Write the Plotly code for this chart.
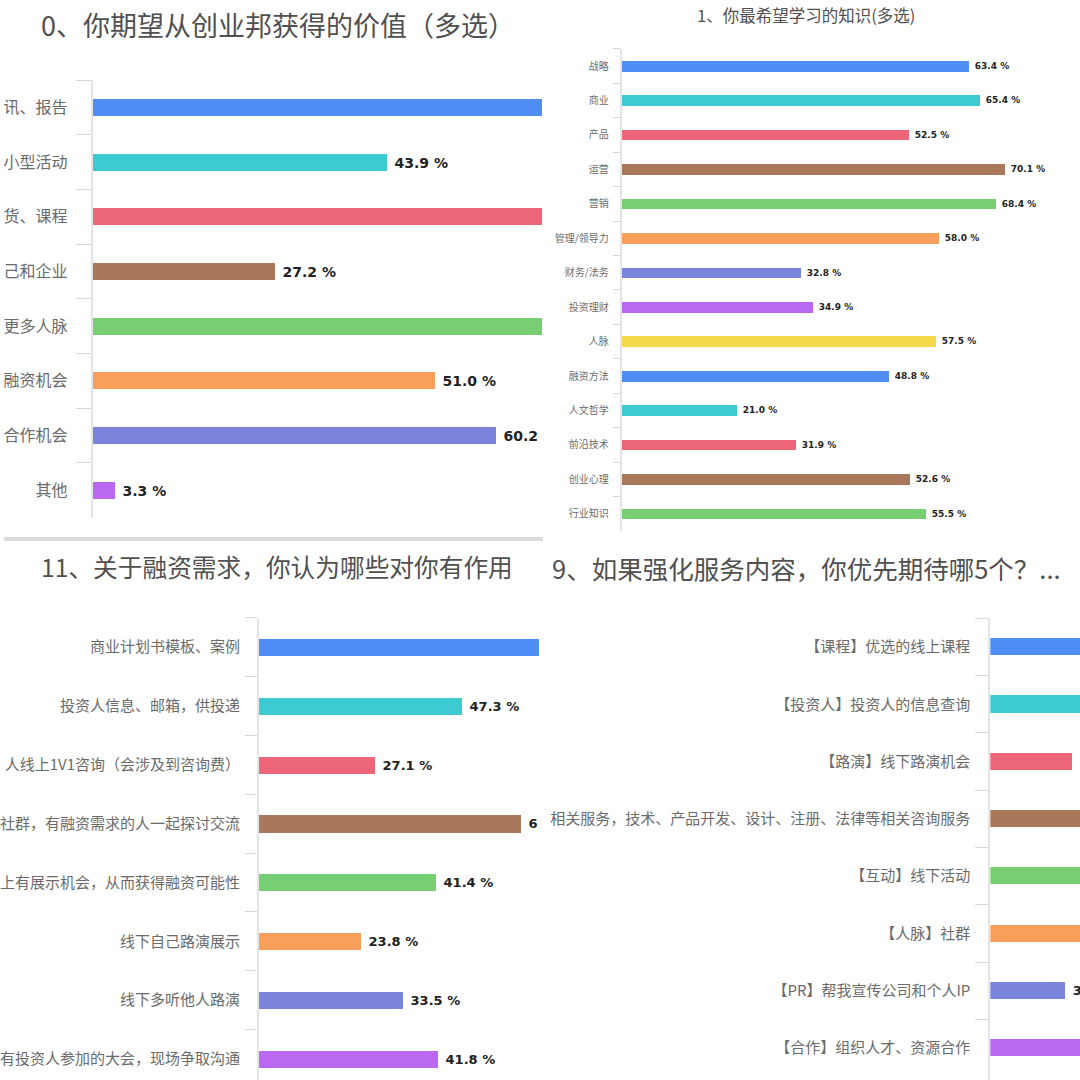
import plotly.graph_objects as go

W = H = 1080

PALETTE = ["#4e8ef5", "#3ecad3", "#ec6579", "#a9785a", "#76cf72",
           "#f99f5c", "#7b84dc", "#ba67f2", "#f4da4a"]

# ---------------- data ----------------
p1_title = "0、你期望从创业邦获得的价值（多选）"
p1_labels = ["讯、报告", "小型活动", "货、课程", "己和企业", "更多人脉", "融资机会", "合作机会", "其他"]
p1_values = [74.8, 43.9, 71.5, 27.2, 70.3, 51.0, 60.2, 3.3]

p2_title = "1、你最希望学习的知识(多选)"
p2_labels = ["战略", "商业", "产品", "运营", "营销", "管理/领导力", "财务/法务", "投资理财",
             "人脉", "融资方法", "人文哲学", "前沿技术", "创业心理", "行业知识"]
p2_values = [63.4, 65.4, 52.5, 70.1, 68.4, 58.0, 32.8, 34.9, 57.5, 48.8, 21.0, 31.9, 52.6, 55.5]

p3_title = "11、关于融资需求，你认为哪些对你有作用"
p3_labels = ["商业计划书模板、案例", "投资人信息、邮箱，供投递", "人线上1V1咨询（会涉及到咨询费）",
             "社群，有融资需求的人一起探讨交流", "上有展示机会，从而获得融资可能性",
             "线下自己路演展示", "线下多听他人路演", "有投资人参加的大会，现场争取沟通"]
p3_values = [70.6, 47.3, 27.1, 61.2, 41.4, 23.8, 33.5, 41.8]

p4_title = "9、如果强化服务内容，你优先期待哪5个？..."
p4_labels = ["【课程】优选的线上课程", "【投资人】投资人的信息查询", "【路演】线下路演机会",
             "相关服务，技术、产品开发、设计、注册、法律等相关咨询服务", "【互动】线下活动",
             "【人脉】社群", "【PR】帮我宣传公司和个人IP", "【合作】组织人才、资源合作"]
p4_values = [61.3, 52.8, 35.6, 44.5, 47.2, 50.4, 32.6, 45.9]

CJK = "Noto Sans CJK SC"
NUM = "DejaVu Sans"


def fx(px):
    return px / W


def fy(px):
    return 1 - px / H


panels = [
    dict(labels=p1_labels, values=p1_values, s="", xd=(89, 540), yd=(80, 517.5), xmax=67.1,
         yr=[7.5, -0.5], lf=16, tl=15, so=20, vf=14, w=0.31),
    dict(labels=p2_labels, values=p2_values, s="2", xd=(620, 1080), yd=(48.8, 531), xmax=83.8,
         yr=[13.5, -0.5], lf=10, tl=7, so=9, vf=9, w=0.31),
    dict(labels=p3_labels, values=p3_values, s="3", xd=(256, 537), yd=(617.6, 1080), xmax=65.35,
         yr=[7.356, -0.5], lf=15, tl=12, so=14, vf=13, w=0.29),
    dict(labels=p4_labels, values=p4_values, s="4", xd=(990, 1080), yd=(618.3, 1080), xmax=39.1,
         yr=[7.557, -0.5], lf=15, tl=13, so=15, vf=13, w=0.30),
]

fig = go.Figure()
layout = dict(
    width=W, height=H,
    margin=dict(l=0, r=0, t=0, b=0),
    paper_bgcolor="white", plot_bgcolor="white",
    showlegend=False,
    bargap=0,
)

for p in panels:
    s = p["s"]
    colors = [PALETTE[i % len(PALETTE)] for i in range(len(p["values"]))]
    fig.add_trace(go.Bar(
        x=p["values"], y=p["labels"], orientation="h",
        marker=dict(color=colors, line=dict(width=0)),
        width=p["w"],
        texttemplate="\u00a0%{x:.1f} %",
        textposition="outside",
        constraintext="none",
        cliponaxis=True,
        textfont=dict(family=NUM, size=p["vf"], color="#222222", weight="bold"),
        xaxis="x" + s, yaxis="y" + s,
        hoverinfo="skip",
    ))
    layout["xaxis" + s] = dict(
        domain=[fx(p["xd"][0]), fx(p["xd"][1])], range=[0, p["xmax"]],
        visible=False, showgrid=False, zeroline=False, anchor="y" + s,
    )
    layout["yaxis" + s] = dict(
        domain=[fy(p["yd"][1]), fy(p["yd"][0])],
        type="category", categoryorder="array", categoryarray=p["labels"],
        range=p["yr"], anchor="x" + s,
        showline=True, linecolor="#e4e4e4", linewidth=2,
        ticks="outside", tickson="boundaries", ticklen=p["tl"], tickcolor="#d8d8d8", tickwidth=1,
        tickfont=dict(family=CJK, size=p["lf"], color="#6b6b6b"),
        ticklabelstandoff=p["so"],
        showgrid=False, zeroline=False,
    )

layout["annotations"] = [
    dict(text=p1_title, xref="paper", yref="paper", x=fx(35), y=fy(24), xanchor="left", yanchor="middle",
         showarrow=False, font=dict(family=CJK, size=27, color="#505050")),
    dict(text=p2_title, xref="paper", yref="paper", x=fx(805), y=fy(15), xanchor="center", yanchor="middle",
         showarrow=False, font=dict(family=CJK, size=16.5, color="#505050")),
    dict(text=p3_title, xref="paper", yref="paper", x=fx(35), y=fy(566), xanchor="left", yanchor="middle",
         showarrow=False, font=dict(family=CJK, size=24.7, color="#505050")),
    dict(text=p4_title, xref="paper", yref="paper", x=fx(548), y=fy(567), xanchor="left", yanchor="middle",
         showarrow=False, font=dict(family=CJK, size=25.5, color="#505050")),
]
layout["shapes"] = [
    dict(type="rect", xref="paper", yref="paper", x0=0, x1=fx(541), y0=fy(541), y1=fy(537),
         fillcolor="#dcdcdc", line=dict(width=0), layer="above"),
]

fig.update_layout(**layout)
fig.write_html("out.html", config={"displayModeBar": False},
               post_script="document.body.style.margin='0';")
